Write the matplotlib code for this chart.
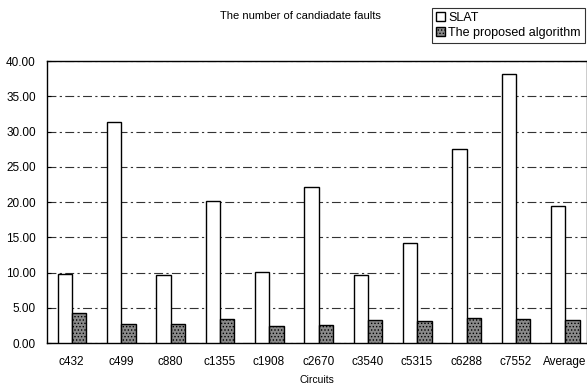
import matplotlib.pyplot as plt
import numpy as np

plt.rcParams['font.family'] = 'Liberation Sans'
plt.rcParams['hatch.linewidth'] = 0.6

# ── data ─────────────────────────────────────────────────────────────────────
circuits = ['c432', 'c499', 'c880', 'c1355', 'c1908', 'c2670',
            'c3540', 'c5315', 'c6288', 'c7552', 'Average']
slat = [9.8, 31.4, 9.6, 20.1, 10.1, 22.2, 9.7, 14.2, 27.5, 38.1, 19.4]
proposed = [4.2, 2.7, 2.7, 3.4, 2.4, 2.6, 3.3, 3.2, 3.6, 3.4, 3.3]
yticks = [0, 5, 10, 15, 20, 25, 30, 35, 40]

# ── figure ───────────────────────────────────────────────────────────────────
fig = plt.figure(figsize=(5.87, 3.89), dpi=100)
ax = fig.add_axes([0.080, 0.118, 0.92, 0.725])

x = np.arange(len(circuits))
w = 0.29
b1 = ax.bar(x - w / 2 + 0.01, slat, w, color='white', edgecolor='black',
            linewidth=1.0, label='SLAT', zorder=3)
b2 = ax.bar(x + w / 2 + 0.01, proposed, w, color='#8a8a8a', edgecolor='black',
            linewidth=1.0, hatch='.....', label='The proposed algorithm',
            zorder=3)

ax.set_ylim(0, 40)
ax.set_xlim(-0.5, 10.45)
ax.set_yticks(yticks)
ax.set_yticklabels([f'{v:.2f}' for v in yticks], fontsize=8.5)
ax.set_xticks(x)
ax.set_xticklabels(circuits, fontsize=8.5)
ax.tick_params(axis='x', length=0, pad=9)
ax.tick_params(axis='y', length=3, pad=8, direction='in')
ax.yaxis.grid(True, linestyle=(0, (8, 3, 2, 3)), color='#333333',
              linewidth=0.8, zorder=0)
for s in ax.spines.values():
    s.set_linewidth(1.0)
    s.set_color('black')

ax.set_xlabel('Circuits', fontsize=7.5, labelpad=5)

fig.text(0.511, 0.958, 'The number of candiadate faults', fontsize=8,
         ha='center', va='center')

leg = fig.legend(handles=[b1, b2], loc='upper right',
                 bbox_to_anchor=(1.0, 0.985), fontsize=9, frameon=True,
                 fancybox=False, edgecolor='black', handlelength=0.7,
                 handleheight=0.7, handletextpad=0.3, borderpad=0.3,
                 labelspacing=0.25, borderaxespad=0.2)
leg.get_frame().set_linewidth(0.8)

fig.savefig('out.png', dpi=100, facecolor='white')
